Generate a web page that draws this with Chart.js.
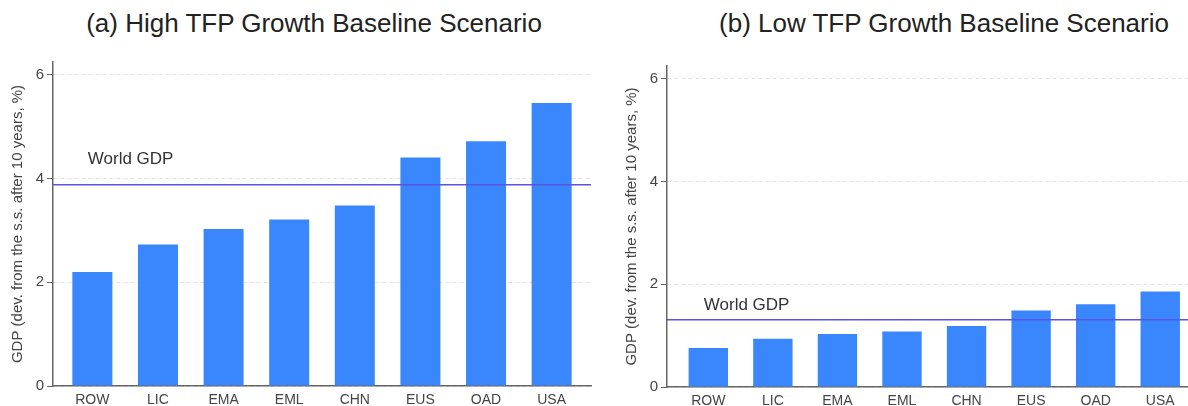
<!DOCTYPE html>
<html>
<head>
<meta charset="utf-8">
<script src="https://cdn.jsdelivr.net/npm/chart.js@4.4.1/dist/chart.umd.min.js"></script>
<style>
  body { margin: 0; background: #fff; overflow: hidden; }
  #wrap { position: relative; width: 1188px; height: 406px; }
  .title {
    position: absolute; top: 8px; transform: translateX(-50%);
    white-space: nowrap; font-family: 'Liberation Sans', Arial, sans-serif;
    font-size: 26px; color: #222;
  }
  canvas { position: absolute; top: 0; }
</style>
</head>
<body>
<div id="wrap">
  <div class="title" style="left:314px">(a) High TFP Growth Baseline Scenario</div>
  <div class="title" style="left:944px">(b) Low TFP Growth Baseline Scenario</div>
  <canvas id="chartA" width="600" height="406" style="left:0"></canvas>
  <canvas id="chartB" width="588" height="406" style="left:600px"></canvas>
</div>
<script>
'use strict';

// Data
let categories = ['ROW', 'LIC', 'EMA', 'EML', 'CHN', 'EUS', 'OAD', 'USA'];
let highTfp = [2.20, 2.73, 3.03, 3.21, 3.48, 4.41, 4.72, 5.46];
let lowTfp = [0.76, 0.94, 1.03, 1.08, 1.19, 1.49, 1.61, 1.86];
let worldHigh = 3.88;
let worldLow = 1.31;
let yTicks = [0, 2, 4, 6];
let axisTitle = 'GDP (dev. from the s.s. after 10 years, %)';

let font = 'Liberation Sans, Arial, sans-serif';

// draws the World GDP line on top of the bars, plus its label
let worldLine = {
  id: 'worldLine',
  afterDatasetsDraw(chart, args, opts) {
    let ctx = chart.ctx;
    let area = chart.chartArea;
    let x = chart.scales.x;
    let y = chart.scales.y;
    let py = y.getPixelForValue(opts.value);
    ctx.save();
    ctx.strokeStyle = '#5a52e4';
    ctx.lineWidth = 1.5;
    ctx.beginPath();
    ctx.moveTo(area.left, py);
    ctx.lineTo(area.right, py);
    ctx.stroke();
    ctx.fillStyle = '#333';
    ctx.font = '17px ' + font;
    ctx.textBaseline = 'middle';
    ctx.fillText('World GDP', x.getPixelForValue(opts.labelX), y.getPixelForValue(opts.labelY));
    ctx.restore();
  }
};

function makeChart(id, values, world, labelY, xMin, xMax, pad, xAxisHeight) {
  let ctx = document.getElementById(id).getContext('2d');
  return new Chart(ctx, {
    type: 'bar',
    data: {
      datasets: [{
        data: values.map((v, i) => ({ x: i, y: v })),
        backgroundColor: '#3a87fd',
        borderWidth: 0,
        barPercentage: 0.61,
        categoryPercentage: 1
      }]
    },
    options: {
      responsive: false,
      animation: false,
      layout: { padding: pad },
      plugins: {
        legend: { display: false },
        tooltip: { enabled: false },
        worldLine: { value: world, labelX: -0.07, labelY: labelY }
      },
      scales: {
        x: {
          type: 'linear',
          min: xMin,
          max: xMax,
          offset: false,
          grid: { display: false, drawTicks: false, offset: false },
          border: { color: '#666', width: 1.5 },
          afterBuildTicks: s => { s.ticks = categories.map((c, i) => ({ value: i })); },
          afterFit: s => { s.height = xAxisHeight; },
          ticks: {
            autoSkip: false,
            maxRotation: 0,
            padding: 6,
            color: '#444',
            font: { family: font, size: 14 },
            callback: v => categories[v]
          }
        },
        y: {
          min: 0,
          max: 6.25,
          afterBuildTicks: s => { s.ticks = yTicks.map(v => ({ value: v })); },
          afterFit: s => { s.width = 53; },
          grid: {
            color: '#e2e2e2',
            lineWidth: 1,
            tickColor: '#666',
            tickLength: 6,
            tickWidth: 1,
            tickBorderDash: []
          },
          border: { color: '#666', width: 1.5, dash: [4, 3] },
          ticks: {
            padding: 3,
            color: '#444',
            font: { family: font, size: 15 }
          },
          title: {
            display: true,
            text: axisTitle,
            color: '#444',
            padding: { top: 9, bottom: 0 },
            font: { family: font, size: 15 }
          }
        }
      }
    },
    plugins: [worldLine]
  });
}

makeChart('chartA', highTfp, worldHigh, 4.38, -0.6, 7.6, { top: 62, left: 0, right: 9, bottom: 0 }, 20);
makeChart('chartB', lowTfp, worldLow, 1.60, -0.64, 7.43, { top: 66, left: 14, right: 0, bottom: 0 }, 19);
</script>
</body>
</html>
